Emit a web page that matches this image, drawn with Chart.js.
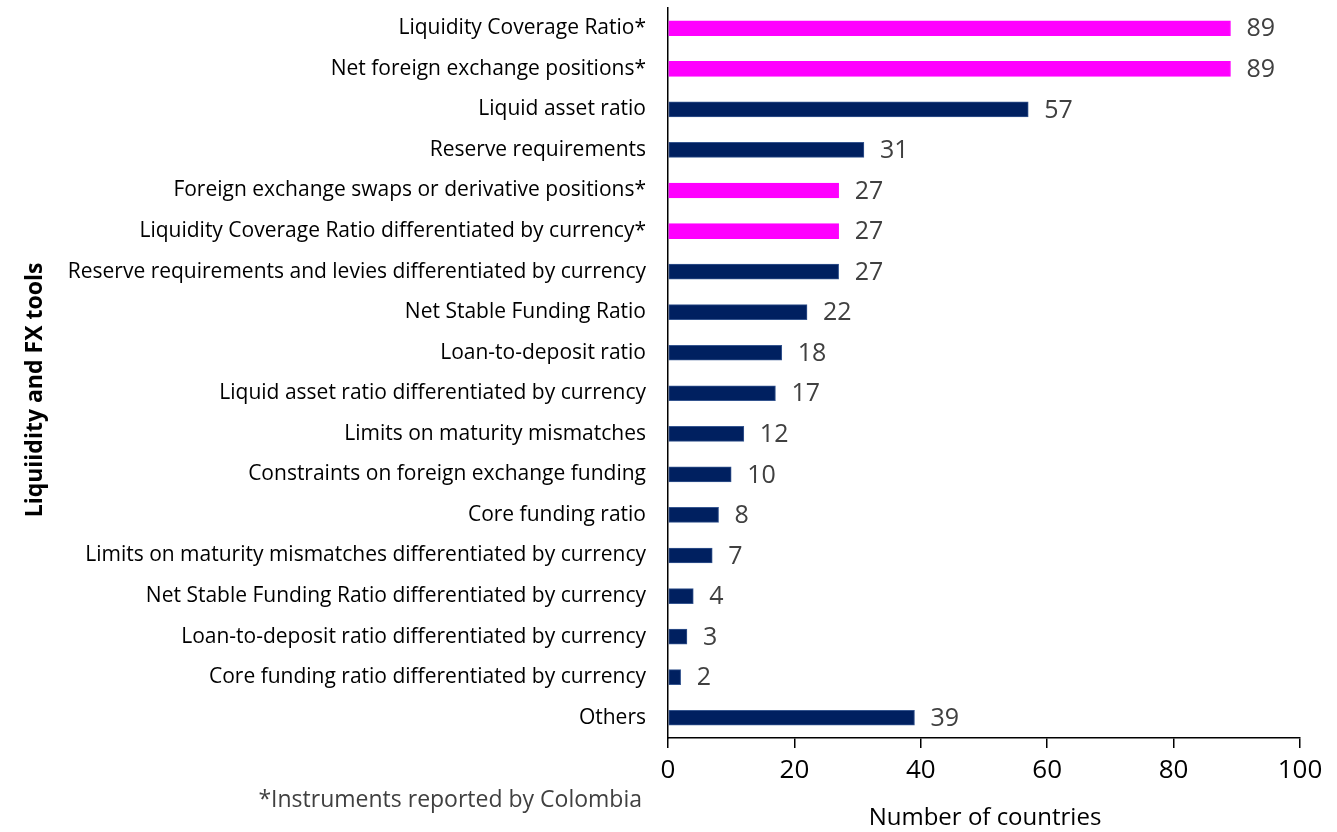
<!DOCTYPE html>
<html>
<head>
<meta charset="utf-8">
<script src="https://cdn.jsdelivr.net/npm/chart.js@4.4.1/dist/chart.umd.min.js"></script>
<style>
  html, body { margin: 0; padding: 0; background: #ffffff; }
  #wrap { width: 1337px; height: 832px; }
</style>
</head>
<body>
<div id="wrap"><canvas id="c" width="1337" height="832"></canvas></div>
<script>
const categories = [
  "Liquidity Coverage Ratio*",
  "Net foreign exchange positions*",
  "Liquid asset ratio",
  "Reserve requirements",
  "Foreign exchange swaps or derivative positions*",
  "Liquidity Coverage Ratio differentiated by currency*",
  "Reserve requirements and levies differentiated by currency",
  "Net Stable Funding Ratio",
  "Loan-to-deposit ratio",
  "Liquid asset ratio differentiated by currency",
  "Limits on maturity mismatches",
  "Constraints on foreign exchange funding",
  "Core funding ratio",
  "Limits on maturity mismatches differentiated by currency",
  "Net Stable Funding Ratio differentiated by currency",
  "Loan-to-deposit ratio differentiated by currency",
  "Core funding ratio differentiated by currency",
  "Others"
];
const countries = [89, 89, 57, 31, 27, 27, 27, 22, 18, 17, 12, 10, 8, 7, 4, 3, 2, 39];
const reportedByColombia = [true, true, false, false, true, true, false, false, false, false, false, false, false, false, false, false, false, false];
const xTicks = [0, 20, 40, 60, 80, 100];

const yTitle = "Liquiidity and FX tools";
const xTitle = "Number of countries";
const footnote = "*Instruments reported by Colombia";

const FONT = "'Open Sans', sans-serif";
const MAGENTA = "#FF00FF";
const NAVY = "#002060";

const barColors = reportedByColombia.map(f => f ? MAGENTA : NAVY);
const barBorders = reportedByColombia.map(f => f ? MAGENTA : "#35558f");

const valueLabels = {
  id: "valueLabels",
  afterDatasetsDraw(chart) {
    const ctx = chart.ctx;
    const meta = chart.getDatasetMeta(0);
    ctx.save();
    ctx.font = "25px " + FONT;
    ctx.fillStyle = "#404040";
    ctx.textAlign = "left";
    ctx.textBaseline = "middle";
    meta.data.forEach((bar, i) => {
      ctx.fillText(String(countries[i]), bar.x + 16, bar.y + 1);
    });
    ctx.restore();
  }
};

const titles = {
  id: "titles",
  afterDraw(chart) {
    const ctx = chart.ctx;
    const area = chart.chartArea;
    ctx.save();
    ctx.translate(35, 390);
    ctx.rotate(-Math.PI / 2);
    ctx.font = "bold 23px " + FONT;
    ctx.fillStyle = "#000000";
    ctx.textAlign = "center";
    ctx.textBaseline = "middle";
    ctx.fillText(yTitle, 0, 0);
    ctx.restore();

    ctx.save();
    ctx.font = "24px " + FONT;
    ctx.fillStyle = "#000000";
    ctx.textAlign = "center";
    ctx.textBaseline = "middle";
    ctx.fillText(xTitle, (area.left + area.right) / 2 + 1, 818);
    ctx.font = "23px " + FONT;
    ctx.fillStyle = "#404040";
    ctx.textAlign = "right";
    ctx.fillText(footnote, 642, 800);
    ctx.restore();
  }
};

new Chart(document.getElementById("c"), {
  type: "bar",
  data: {
    labels: categories,
    datasets: [{
      data: countries,
      backgroundColor: barColors,
      borderColor: barBorders,
      borderWidth: 1,
      borderSkipped: false,
      barThickness: 15
    }]
  },
  options: {
    indexAxis: "y",
    responsive: false,
    animation: false,
    devicePixelRatio: 1,
    layout: { padding: { top: 8, right: 37, bottom: 0, left: 0 } },
    plugins: {
      legend: { display: false },
      tooltip: { enabled: false },
      title: { display: false }
    },
    scales: {
      x: {
        type: "linear",
        min: 0,
        max: 100,
        afterBuildTicks(scale) { scale.ticks = xTicks.map(v => ({ value: v })); },
        ticks: {
          color: "#000000",
          font: { family: FONT, size: 26 },
          padding: 7,
          maxRotation: 0
        },
        grid: {
          drawOnChartArea: false,
          drawTicks: true,
          tickLength: 10,
          color: "#000000",
          lineWidth: 1.5
        },
        border: { display: true, color: "#000000", width: 1.5 },
        afterFit(scale) { scale.height = 94; scale.paddingLeft = 0; scale.paddingRight = 0; }
      },
      y: {
        ticks: {
          color: "#000000",
          font: { family: FONT, size: 21 },
          padding: 22,
          autoSkip: false
        },
        grid: {
          drawOnChartArea: false,
          drawTicks: false
        },
        border: { display: true, color: "#000000", width: 1.5 },
        afterFit(scale) { scale.width = 668; scale.paddingTop = 0; scale.paddingBottom = 0; }
      }
    }
  },
  plugins: [valueLabels, titles]
});
</script>
</body>
</html>
